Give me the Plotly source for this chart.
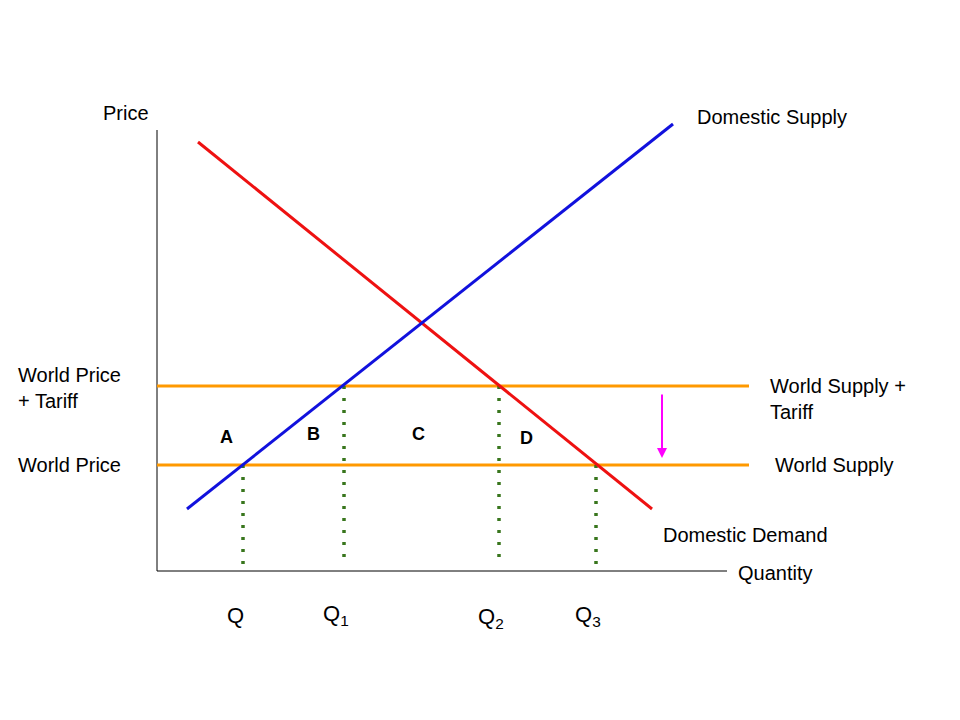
import plotly.graph_objects as go

# coordinates in a frame with origin at the axes corner (quantity right, price up)
supply_q = [30, 516]
supply_p = [62, 447]
demand_q = [41, 495]
demand_p = [429, 62]
world_tariff_p = 185
world_p = 106
world_line_q = [0, 592]
q_points = [86, 187, 342, 439]
q_tops = [106, 185, 185, 106]
q_labels = ["Q", "Q<sub>1</sub>", "Q<sub>2</sub>", "Q<sub>3</sub>"]
q_label_p = [-44, -44, -47, -45]
area_labels = ["A", "B", "C", "D"]
area_q = [69, 156, 261, 369]
area_p = [134, 137, 137, 133]

fig = go.Figure()
fig.add_trace(go.Scatter(x=[0, 0, 570], y=[441, 0, 0], mode="lines",
                         line=dict(color="black", width=1)))
fig.add_trace(go.Scatter(x=world_line_q, y=[world_tariff_p] * 2, mode="lines",
                         line=dict(color="#ff9900", width=3)))
fig.add_trace(go.Scatter(x=world_line_q, y=[world_p] * 2, mode="lines",
                         line=dict(color="#ff9900", width=3)))
for q, top in zip(q_points, q_tops):
    fig.add_trace(go.Scatter(x=[q, q], y=[top, 5], mode="lines",
                             line=dict(color="#38761d", width=3.5, dash="3px,9px")))
fig.add_trace(go.Scatter(x=demand_q, y=demand_p, mode="lines",
                         line=dict(color="#ee1111", width=3)))
fig.add_trace(go.Scatter(x=supply_q, y=supply_p, mode="lines",
                         line=dict(color="#1111dd", width=3)))

font = dict(family="Liberation Sans, Arial", size=20, color="black")
texts = [
    (-31, 458, "Price", "center"),
    (538, 454, "Domestic Supply", "left"),
    (-141, 183, "World Price<br>+ Tariff", "left"),
    (-141, 106, "World Price", "left"),
    (611, 172, "World Supply +<br>Tariff", "left"),
    (616, 106, "World Supply", "left"),
    (504, 36, "Domestic Demand", "left"),
    (579, -2, "Quantity", "left"),
]
for x, y, t, a in texts:
    fig.add_annotation(x=x, y=y, text=t, showarrow=False, xanchor=a,
                       align="left", font=font)
for x, y, t in zip(q_points, q_label_p, q_labels):
    fig.add_annotation(x=x - 8, y=y, text=t, showarrow=False,
                       font=dict(family="Liberation Sans, Arial", size=22, color="black"))
for x, y, t in zip(area_q, area_p, area_labels):
    fig.add_annotation(x=x, y=y, text="<b>" + t + "</b>", showarrow=False,
                       font=dict(family="Liberation Sans, Arial", size=18, color="black"))
fig.add_annotation(x=505, y=113, ax=505, ay=178, xref="x", yref="y",
                   axref="x", ayref="y", text="", showarrow=True,
                   arrowhead=2, arrowsize=1, arrowwidth=2, arrowcolor="#ff00ff")

fig.update_layout(width=960, height=720, margin=dict(l=0, r=0, t=0, b=0),
                  plot_bgcolor="white", paper_bgcolor="white", showlegend=False,
                  xaxis=dict(range=[-149, 811], visible=False),
                  yaxis=dict(range=[-157, 563], visible=False))
fig.write_html("out.html")
